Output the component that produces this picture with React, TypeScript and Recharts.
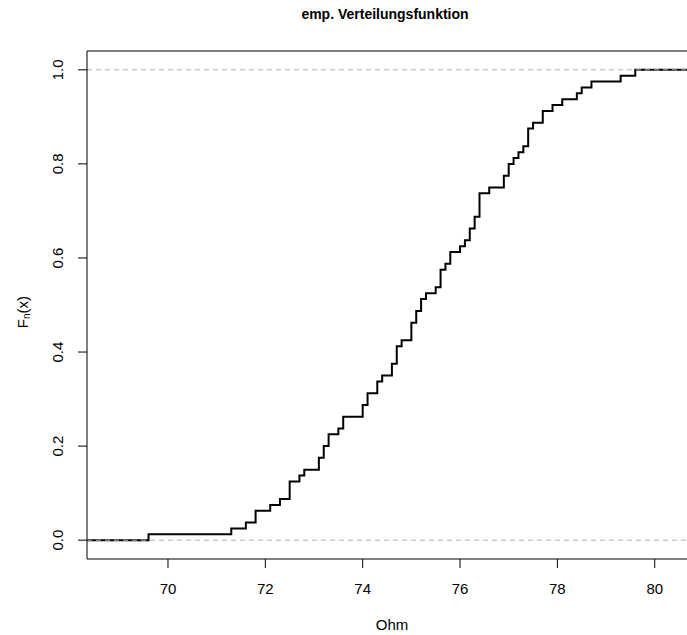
import { useMemo } from 'react';
import { LineChart, Line, XAxis, YAxis, ReferenceLine } from 'recharts';

// resistance measurements (Ohm), n = 80
const ohmSample = [
  69.6, 71.3, 71.6, 71.8, 71.8, 72.1, 72.3, 72.5, 72.5, 72.5,
  72.7, 72.8, 73.1, 73.1, 73.2, 73.2, 73.3, 73.3, 73.5, 73.6,
  73.6, 74.0, 74.0, 74.1, 74.1, 74.3, 74.3, 74.4, 74.6, 74.6,
  74.7, 74.7, 74.7, 74.8, 75.0, 75.0, 75.0, 75.1, 75.1, 75.2,
  75.2, 75.3, 75.5, 75.6, 75.6, 75.6, 75.7, 75.8, 75.8, 76.0,
  76.1, 76.2, 76.2, 76.3, 76.3, 76.4, 76.4, 76.4, 76.4, 76.6,
  76.9, 76.9, 77.0, 77.0, 77.1, 77.2, 77.3, 77.4, 77.4, 77.4,
  77.5, 77.7, 77.7, 77.9, 78.1, 78.4, 78.5, 78.7, 79.3, 79.6,
];

const xTicks = [70, 72, 74, 76, 78, 80];
const yTicks = [0, 0.2, 0.4, 0.6, 0.8, 1.0];
const xLimits = [68.336, 80.663];
const yLimits = [-0.04, 1.04];

const font = '"Liberation Sans", Arial, Helvetica, sans-serif';

function XTick(props: any) {
  const { x, y, payload } = props;
  return (
    <text x={x} y={y + 20} textAnchor="middle" dominantBaseline="central"
      fontFamily={font} fontSize={15} fill="#000">
      {payload.value}
    </text>
  );
}

function YTick(props: any) {
  const { x, y, payload } = props;
  const cx = x - 20;
  return (
    <text x={cx} y={y} textAnchor="middle" dominantBaseline="central"
      transform={`rotate(-90 ${cx} ${y})`}
      fontFamily={font} fontSize={15} fill="#000">
      {Number(payload.value).toFixed(1)}
    </text>
  );
}

export default function App() {
  // empirical distribution function as step points
  const data = useMemo(() => {
    const sorted = [...ohmSample].sort((a, b) => a - b);
    const n = sorted.length;
    const pts: { x: number; F: number }[] = [{ x: xLimits[0], F: 0 }];
    sorted.forEach((v, i) => {
      if (i + 1 < n && sorted[i + 1] === v) return;
      pts.push({ x: v, F: (i + 1) / n });
    });
    pts.push({ x: 81, F: 1 });
    return pts;
  }, []);

  return (
    <div style={{ position: 'absolute', left: 0, top: 0, width: 687, height: 635, background: '#fff', overflow: 'hidden' }}>
      <LineChart width={687} height={635} data={data}
        margin={{ top: 51, right: 0, bottom: 0, left: 0 }}>
        <XAxis dataKey="x" type="number" domain={xLimits} allowDataOverflow
          ticks={xTicks} tick={<XTick />} tickSize={9} tickMargin={0}
          height={76} axisLine={{ stroke: '#000' }} tickLine={{ stroke: '#000' }} />
        <YAxis type="number" domain={yLimits} allowDataOverflow
          ticks={yTicks} tick={<YTick />} tickSize={9} tickMargin={0}
          width={87} axisLine={{ stroke: '#000' }} tickLine={{ stroke: '#000' }} />
        <ReferenceLine y={yLimits[1]} stroke="#000" />
        <Line type="stepAfter" dataKey="F" stroke="#000" strokeWidth={2}
          dot={false} isAnimationActive={false} />
        <ReferenceLine y={0} stroke="#b3b3b3" strokeDasharray="5 4" />
        <ReferenceLine y={1} stroke="#b3b3b3" strokeDasharray="5 4" />
      </LineChart>
      <div style={{ position: 'absolute', left: 0, top: 0, width: 687, height: 635, pointerEvents: 'none' }}>
        <svg width={687} height={635}>
          <text x={385} y={14} textAnchor="middle" dominantBaseline="central"
            fontFamily={font} fontSize={14} fontWeight="bold">
            emp. Verteilungsfunktion
          </text>
          <text x={392} y={624} textAnchor="middle" dominantBaseline="central"
            fontFamily={font} fontSize={15}>
            Ohm
          </text>
          <text x={22} y={312} textAnchor="middle" dominantBaseline="central"
            transform="rotate(-90 22 312)" fontFamily={font} fontSize={15}>
            F<tspan fontSize={10} dy={4}>n</tspan><tspan dy={-4}>(x)</tspan>
          </text>
        </svg>
      </div>
    </div>
  );
}
